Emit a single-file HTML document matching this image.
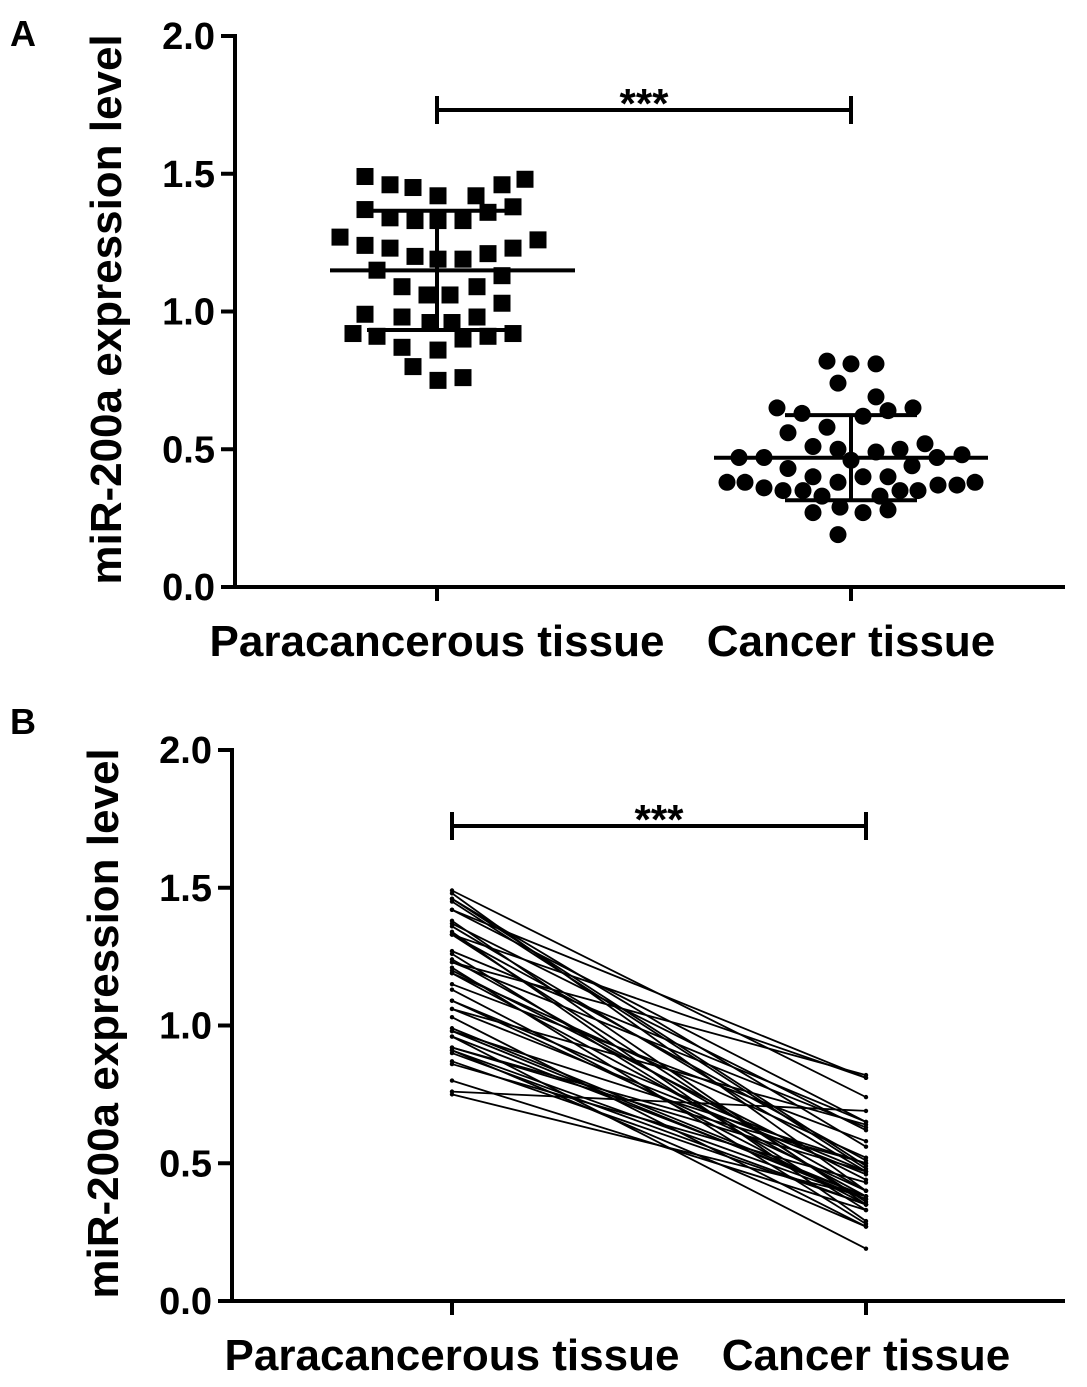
<!DOCTYPE html>
<html><head><meta charset="utf-8"><style>
body{margin:0;background:#fff}
svg text{font-family:"Liberation Sans",Arial,sans-serif;font-weight:bold;fill:#000}
</style></head><body>
<svg id="c" width="1087" height="1382">
</svg>
<script>
const categories=["Paracancerous tissue","Cancer tissue"];
const yTicks=[0,0.5,1.0,1.5,2.0];
const paraValues=[1.49,1.46,1.45,1.42,1.42,1.46,1.48,1.37,1.34,1.33,1.33,1.33,1.36,1.38,1.27,1.24,1.23,1.20,1.19,1.19,1.21,1.23,1.26,1.15,1.13,1.09,1.09,1.06,1.06,1.03,0.99,0.98,0.98,0.96,0.96,0.92,0.91,0.90,0.91,0.92,0.87,0.86,0.80,0.75,0.76];
const paraJitter=[-72,-47,-24,1,39,65,88,-72,-47,-22,1,26,51,76,-97,-72,-47,-22,1,26,51,76,101,-60,65,-35,40,-10,13,65,-72,-35,40,-7,15,-84,-60,26,51,76,-35,1,-24,1,26];
const cancerValues=[0.82,0.81,0.81,0.74,0.69,0.65,0.63,0.62,0.64,0.65,0.56,0.58,0.51,0.50,0.49,0.50,0.52,0.47,0.47,0.47,0.48,0.43,0.44,0.38,0.38,0.36,0.35,0.35,0.40,0.38,0.40,0.40,0.35,0.35,0.37,0.37,0.38,0.33,0.33,0.27,0.29,0.27,0.28,0.19,0.46];
const cancerJitter=[-24,0,25,-13,25,-74,-49,12,37,62,-63,-24,-38,-13,25,49,74,-112,-87,86,111,-63,61,-124,-106,-87,-68,-48,-38,-13,12,37,49,67,87,106,124,-29,29,-38,-11,12,37,-13,0];
const pairOrder=[3,10,20,5,1,14,30,7,40,12,25,2,18,33,9,28,0,22,36,16,42,6,38,11,27,19,31,44,8,41,23,35,15,43,24,13,34,26,39,17,32,21,37,29,4];
const NS="http://www.w3.org/2000/svg";
const svg=document.getElementById('c');
function el(tag,attrs,parent){const e=document.createElementNS(NS,tag);for(const k in attrs)e.setAttribute(k,attrs[k]);(parent||svg).appendChild(e);return e;}
function mean(a){return a.reduce((s,v)=>s+v,0)/a.length;}
function sd(a){const m=mean(a);return Math.sqrt(a.reduce((s,v)=>s+(v-m)*(v-m),0)/(a.length-1));}
function axes(g,ax,top,bottom,catX,label,letter,letterY){
  const y=v=>bottom-(bottom-top)*v/2;
  const yl=el('line',{x1:ax,y1:top-2,x2:ax,y2:bottom+2,stroke:'#000','stroke-width':4},g);
  
  const xl=el('line',{x1:ax-2,y1:bottom,x2:1065,y2:bottom,stroke:'#000','stroke-width':4},g);
  
  yTicks.forEach(t=>{
    el('line',{x1:ax-14,y1:y(t),x2:ax,y2:y(t),stroke:'#000','stroke-width':4},g);
    const tx=el('text',{x:ax-20,y:y(t)+13,'font-size':38,'text-anchor':'end'},g);tx.textContent=t.toFixed(1);
    
  });
  categories.forEach((c,i)=>{
    el('line',{x1:catX(i),y1:bottom,x2:catX(i),y2:bottom+14,stroke:'#000','stroke-width':4},g);
    const tx=el('text',{x:catX(i),y:bottom+69,'font-size':44,'text-anchor':'middle'},g);tx.textContent=c;
    
  });
  const yt=el('text',{x:0,y:0,'font-size':44,'text-anchor':'middle',transform:`translate(${ax-114},${(top+bottom)/2-2}) rotate(-90)`},g);
  yt.textContent=label;
  const lt=el('text',{x:10,y:letterY,'font-size':36},g);lt.textContent=letter;
  
  return y;
}
function sig(g,x1,x2,yy){
  el('path',{d:`M${x1} ${yy-14}V${yy+14}M${x1} ${yy}H${x2}M${x2} ${yy-14}V${yy+14}`,stroke:'#000','stroke-width':4,fill:'none'},g);
  const t=el('text',{x:(x1+x2)/2,y:yy+8,'font-size':42,'text-anchor':'middle'},g);t.textContent='***';
  
}
// Panel A
const gA=el('g',{});
const cxA=i=>437+i*414;
const yA=axes(gA,235,36,587,cxA,'miR-200a expression level','A',46);
sig(gA,cxA(0),cxA(1),110);
paraValues.forEach((v,i)=>{
  const r=el('rect',{x:cxA(0)+paraJitter[i]-8.5,y:yA(v)-8.5,width:17,height:17,fill:'#000'},gA);
  
});
cancerValues.forEach((v,i)=>{
  const c=el('circle',{cx:cxA(1)+cancerJitter[i],cy:yA(v),r:8.5,fill:'#000'},gA);
  
});
[[paraValues,0,107,138,-70,76],[cancerValues,1,137,137,-66,66]].forEach(([arr,i,ml,mr,cl,cr])=>{
  const m=mean(arr),s=sd(arr),x=cxA(i);
  const p=el('path',{d:`M${x-ml} ${yA(m)}H${x+mr}M${x} ${yA(m-s)}V${yA(m+s)}M${x+cl} ${yA(m-s)}H${x+cr}M${x+cl} ${yA(m+s)}H${x+cr}`,stroke:'#000','stroke-width':4,fill:'none'},gA);
  
});
// Panel B
const gB=el('g',{});
const cxB=i=>452+i*414;
const yB=axes(gB,232,750,1301,cxB,'miR-200a expression level','B',734);
sig(gB,cxB(0),cxB(1),826);
paraValues.forEach((v,i)=>{
  const w=cancerValues[pairOrder[i]];
  const l=el('line',{x1:cxB(0),y1:yB(v),x2:cxB(1),y2:yB(w),stroke:'#000','stroke-width':1.8},gB);
  
  el('circle',{cx:cxB(0),cy:yB(v),r:2.2,fill:'#000'},gB);
  el('circle',{cx:cxB(1),cy:yB(w),r:2.2,fill:'#000'},gB);
});
</script>
</body></html>
